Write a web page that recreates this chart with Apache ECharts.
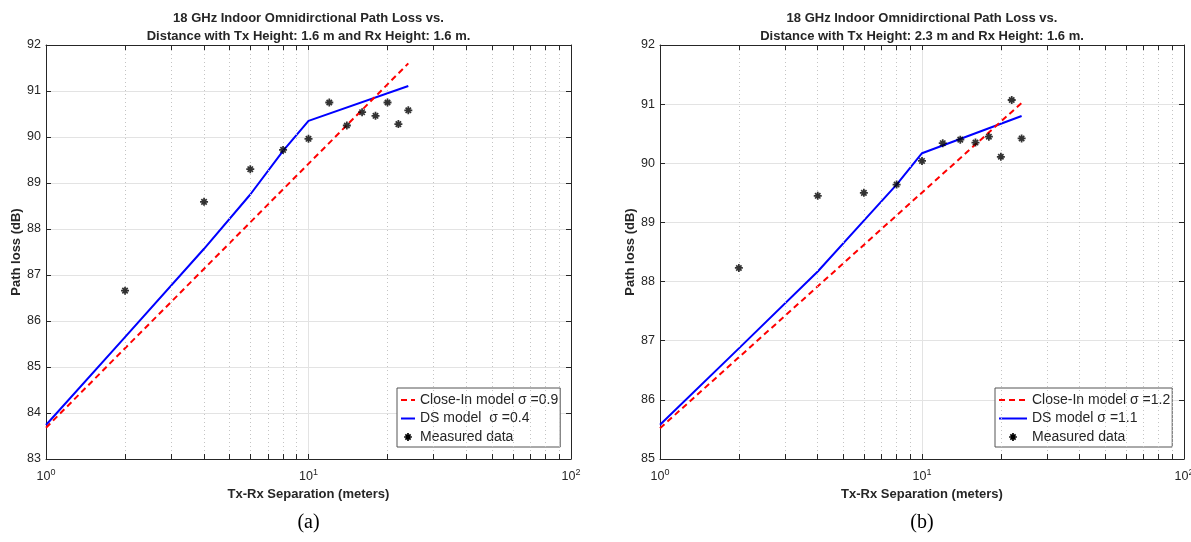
<!DOCTYPE html>
<html><head><meta charset="utf-8">
<script src="https://cdn.jsdelivr.net/npm/echarts@6/dist/echarts.min.js"></script>
<style>html,body{margin:0;padding:0;background:#fff}#c{width:1191px;height:542px}</style>
</head><body><div id="c"></div>
<script>
// ---- data ----
const measuredDist = [2, 4, 6, 8, 10, 12, 14, 16, 18, 20, 22, 24];
const measuredA = [86.66, 88.59, 89.30, 89.72, 89.96, 90.75, 90.25, 90.54, 90.46, 90.75, 90.28, 90.58];
const measuredB = [88.23, 89.45, 89.50, 89.64, 90.04, 90.34, 90.40, 90.35, 90.45, 90.11, 91.07, 90.42];
const closeInDist = [1, 24];
const closeInA = [83.68, 91.60];
const closeInB = [85.52, 91.02];
const dsDist = [1, 2, 4, 6, 8, 10, 24];
const dsA = [83.74, 85.65, 87.57, 88.75, 89.70, 90.35, 91.11];
const dsB = [85.58, 86.87, 88.17, 89.03, 89.64, 90.17, 90.80];
const minorTicks = [2, 3, 4, 5, 6, 7, 8, 9, 20, 30, 40, 50, 60, 70, 80, 90];
const yRangeA = [83, 92];
const yRangeB = [85, 92];
const titleA = ['18 GHz Indoor Omnidirctional Path Loss vs.', 'Distance with Tx Height: 1.6 m and Rx Height: 1.6 m.'];
const titleB = ['18 GHz Indoor Omnidirctional Path Loss vs.', 'Distance with Tx Height: 2.3 m and Rx Height: 1.6 m.'];
const legendA = ['Close-In model σ =0.9', 'DS model  σ =0.4', 'Measured data'];
const legendB = ['Close-In model σ =1.2', 'DS model σ =1.1', 'Measured data'];
const xName = 'Tx-Rx Separation (meters)';
const yName = 'Path loss (dB)';
const panelLabels = ['(a)', '(b)'];

// ---- layout ----
const W = 1191, H = 542;
const grids = [
  {left: 46, right: W - 571, top: 45, bottom: H - 459, outerBoundsMode: 'none', containLabel: false},
  {left: 660, right: W - 1184, top: 45, bottom: H - 459, outerBoundsMode: 'none', containLabel: false}
];
const TXT = '#262626';
const FONT = '"Liberation Sans", Arial, Helvetica, sans-serif';
const STAR_BODY = 'M3.9,0 L6.1,0 L6.1,10 L3.9,10 Z M0,3.9 L10,3.9 L10,6.1 L0,6.1 Z M0.9,2.4 L2.4,0.9 L9.1,7.6 L7.6,9.1 Z M7.6,0.9 L9.1,2.4 L2.4,9.1 L0.9,7.6 Z';
const STAR = 'path://' + STAR_BODY;
// same glyph inside a larger empty box, so the legend icon stays small
const STAR_LEGEND = 'path://M-4,-4 L-4,-4 Z M14,14 L14,14 Z ' + STAR_BODY;

function pairs(xs, ys) { return xs.map((x, i) => [x, ys[i]]); }

const xAxes = [], yAxes = [], series = [];
[0, 1].forEach(g => {
  const yr = g === 0 ? yRangeA : yRangeB;
  const base = {
    gridIndex: g, type: 'log', logBase: 10, min: 1, max: 100,
    axisLine: {show: true, onZero: false, lineStyle: {color: TXT, width: 1}},
    axisTick: {show: true, inside: true, length: 5, lineStyle: {color: TXT}},
    splitLine: {show: false}
  };
  xAxes.push(Object.assign({}, base, {
    position: 'bottom',
    splitLine: {show: true, lineStyle: {color: '#e3e3e3', width: 1}},
    axisLabel: {
      show: true, margin: 9, showMinLabel: true, showMaxLabel: true, hideOverlap: false,
      formatter: v => '{b|10}{s|' + Math.round(Math.log10(v)) + '}',
      rich: {
        b: {fontSize: 12.5, color: TXT, fontFamily: FONT},
        s: {fontSize: 9, color: TXT, fontFamily: FONT, verticalAlign: 'top', padding: [0, 0, 8, 0]}
      }
    },
    name: xName, nameLocation: 'middle', nameGap: 29,
    nameTextStyle: {fontSize: 13, fontWeight: 'bold', color: TXT, fontFamily: FONT}
  }));
  xAxes.push(Object.assign({}, base, {position: 'top', axisLabel: {show: false}}));
  const ybase = {
    gridIndex: g, type: 'value', min: yr[0], max: yr[1], interval: 1,
    axisLine: {show: true, onZero: false, lineStyle: {color: TXT, width: 1}},
    axisTick: {show: true, inside: true, length: 5, lineStyle: {color: TXT}},
    splitLine: {show: false}
  };
  yAxes.push(Object.assign({}, ybase, {
    position: 'left',
    splitLine: {show: true, lineStyle: {color: '#e3e3e3', width: 1}},
    axisLabel: {show: true, margin: 5, fontSize: 12.5, color: TXT, fontFamily: FONT},
    name: yName, nameLocation: 'middle', nameGap: 22, nameRotate: 90,
    nameTextStyle: {fontSize: 13, fontWeight: 'bold', color: TXT, fontFamily: FONT}
  }));
  yAxes.push(Object.assign({}, ybase, {position: 'right', axisLabel: {show: false}}));

  const xi = g * 2, yi = g * 2;
  const tickLen = 5 * (yr[1] - yr[0]) / (459 - 45);
  const ml = [];
  minorTicks.forEach(v => {
    ml.push({xAxis: v, lineStyle: {type: [1, 3], color: '#c4c4c4', width: 1}});
    ml.push([{coord: [v, yr[0]], lineStyle: {type: 'solid', color: TXT, width: 1}}, {coord: [v, yr[0] + tickLen]}]);
    ml.push([{coord: [v, yr[1]], lineStyle: {type: 'solid', color: TXT, width: 1}}, {coord: [v, yr[1] - tickLen]}]);
  });
  series.push({
    type: 'line', name: 'grid' + g, xAxisIndex: xi, yAxisIndex: yi, data: [], z: 1, silent: true,
    markLine: {silent: true, symbol: ['none', 'none'], label: {show: false}, animation: false, data: ml}
  });
  const lg = g === 0 ? legendA : legendB;
  series.push({
    type: 'line', name: lg[0], xAxisIndex: xi, yAxisIndex: yi, z: 4,
    data: pairs(closeInDist, g === 0 ? closeInA : closeInB),
    symbol: 'none', lineStyle: {color: '#ff0000', width: 2, type: [6, 4]}, itemStyle: {color: '#ff0000'}
  });
  series.push({
    type: 'line', name: lg[1], xAxisIndex: xi, yAxisIndex: yi, z: 3,
    data: pairs(dsDist, g === 0 ? dsA : dsB),
    symbol: 'none', lineStyle: {color: '#0000ff', width: 2}, itemStyle: {color: '#0000ff'}
  });
  series.push({
    type: 'scatter', name: lg[2], xAxisIndex: xi, yAxisIndex: yi, z: 5,
    data: pairs(measuredDist, g === 0 ? measuredA : measuredB),
    symbol: STAR, symbolSize: 8, itemStyle: {color: '#000'}
  });
});

const legendCommon = {
  orient: 'vertical', top: 388, itemGap: 4.5, itemHeight: 14,
  backgroundColor: '#fff', borderColor: '#555', borderWidth: 1, borderRadius: 0,
  padding: [5, 2, 3, 3], selectedMode: false,
  textStyle: {fontSize: 14, color: TXT, fontFamily: FONT}
};
function legendData(names) {
  return [
    {name: names[0], itemStyle: {opacity: 0}},
    {name: names[1], itemStyle: {opacity: 0}},
    {name: names[2], icon: STAR_LEGEND, itemStyle: {color: '#000', opacity: 1}}
  ];
}
const legends = [
  Object.assign({}, legendCommon, {left: 397, itemWidth: 14, data: legendData(legendA)}),
  Object.assign({}, legendCommon, {left: 995, itemWidth: 28, data: legendData(legendB)})
];

const graphics = [];
[[titleA, 308.5], [titleB, 922]].forEach(([t, cx]) => {
  t.forEach((line, i) => graphics.push({
    type: 'text', x: cx, y: 18 + i * 18,
    style: {text: line, textAlign: 'center', textVerticalAlign: 'middle',
      font: 'bold 13px ' + FONT, fill: TXT}
  }));
});
[[panelLabels[0], 308.5], [panelLabels[1], 922]].forEach(([t, cx]) => graphics.push({
  type: 'text', x: cx, y: 523,
  style: {text: t, textAlign: 'center', textVerticalAlign: 'middle',
    font: '20px "Liberation Serif", "Times New Roman", serif', fill: '#000'}
}));

const chart = echarts.init(document.getElementById('c'), null, {renderer: 'canvas'});
chart.setOption({
  animation: false,
  backgroundColor: '#fff',
  grid: grids,
  xAxis: xAxes,
  yAxis: yAxes,
  legend: legends,
  series: series,
  graphic: graphics
});
</script></body></html>
